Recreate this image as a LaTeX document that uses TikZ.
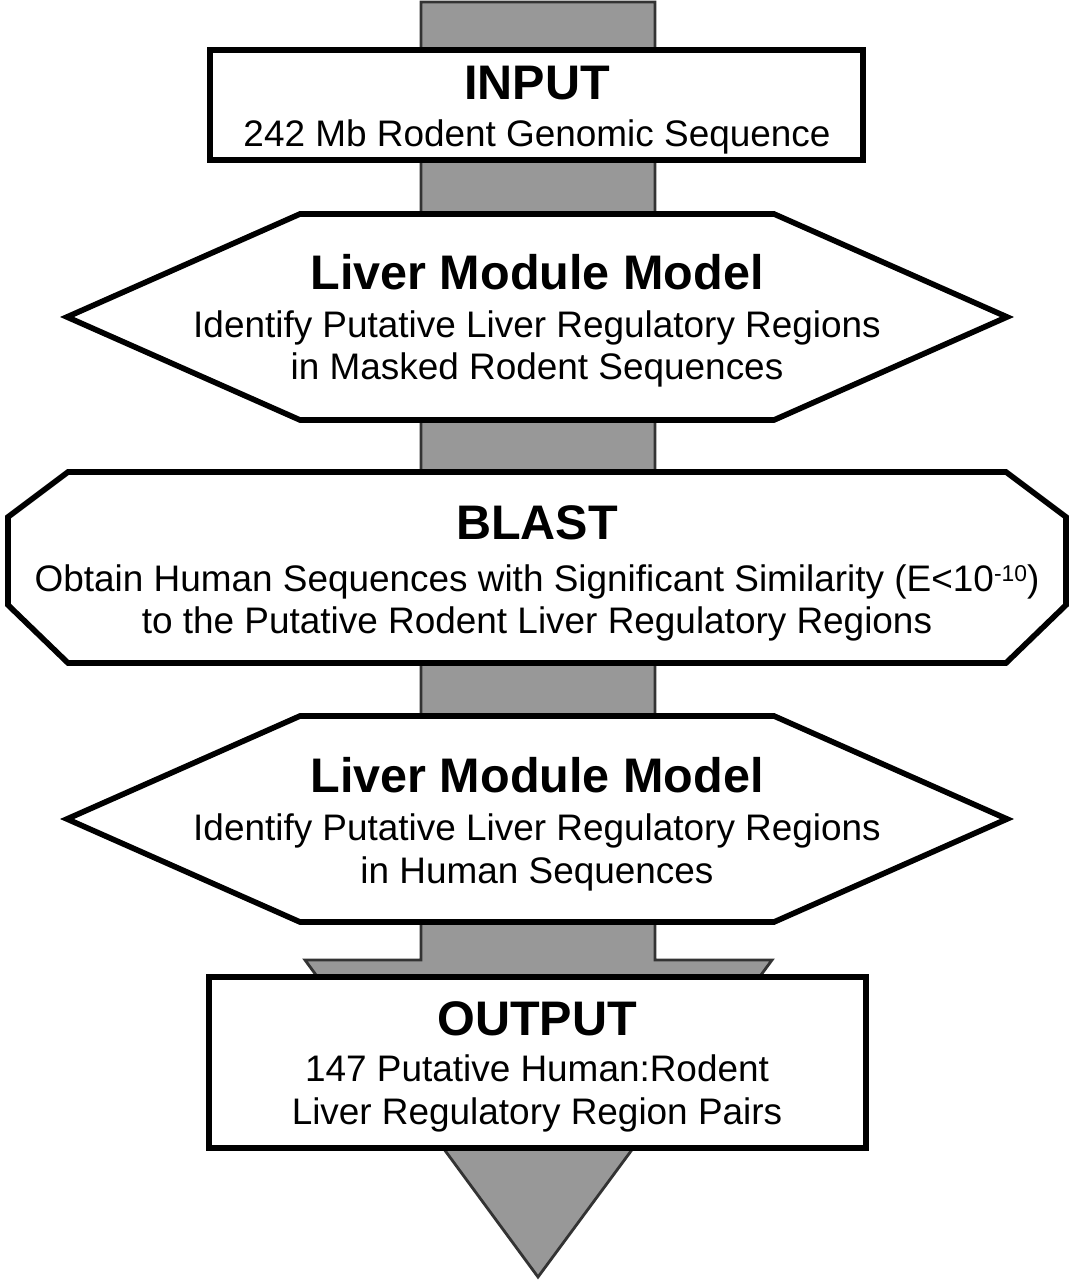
\documentclass[tikz,border=0pt]{standalone}
\usepackage{fontspec}
\setmainfont{Liberation Sans}
\definecolor{shaftgray}{RGB}{152,152,152}
\begin{document}
\begin{tikzpicture}[
  x=0.01cm, y=-0.01cm,
  frame/.style={draw, line width=1.6pt, fill=white, line join=miter},
  ttl/.style={font=\bfseries\fontsize{13.8}{16}\selectfont, inner sep=0pt, anchor=base},
  desc/.style={font=\fontsize{10.5}{12.2}\selectfont, align=center, inner sep=0pt},
  shaft/.style={fill=shaftgray, draw=black!80, line width=0.8pt}
]
\useasboundingbox (0,0) rectangle (1073,1280);
% big flow arrow behind the boxes
\draw[shaft] (421,2) -- (421,960) -- (305,960) -- (538,1277) -- (772,960) -- (655,960) -- (655,2) -- cycle;
% frames
\draw[frame] (210,50) rectangle (863,160);
\draw[frame] (67,317) -- (300,214) -- (774,214) -- (1007,317) -- (774,420) -- (300,420) -- cycle;
\draw[frame] (68,472) -- (1006,472) -- (1066,517) -- (1066,605) -- (1006,663) -- (68,663) -- (8,605) -- (8,517) -- cycle;
\draw[frame] (67,819) -- (300,716) -- (774,716) -- (1007,819) -- (774,922) -- (300,922) -- cycle;
\draw[frame] (209,977) rectangle (866,1148);
% texts
\node[ttl] (t1) at (537,100) {INPUT};
\node[desc] (d1) at (537,137) {242 Mb Rodent Genomic Sequence};
\node[ttl] (t2) at (537,290) {Liver Module Model};
\node[desc] (d2) at (537,349) {Identify Putative Liver Regulatory Regions\\in Masked Rodent Sequences};
\node[ttl] (t3) at (537,540) {BLAST};
\node[desc] (d3) at (537,603) {Obtain Human Sequences with Significant Similarity (E<10\raisebox{0.25em}{\fontsize{6.5}{7}\selectfont -10})\\to the Putative Rodent Liver Regulatory Regions};
\node[ttl] (t4) at (537,792) {Liver Module Model};
\node[desc] (d4) at (537,852) {Identify Putative Liver Regulatory Regions\\in Human Sequences};
\node[ttl] (t5) at (537,1035) {OUTPUT};
\node[desc] (d5) at (537,1093) {147 Putative Human:Rodent\\Liver Regulatory Region Pairs};
\end{tikzpicture}
\end{document}
